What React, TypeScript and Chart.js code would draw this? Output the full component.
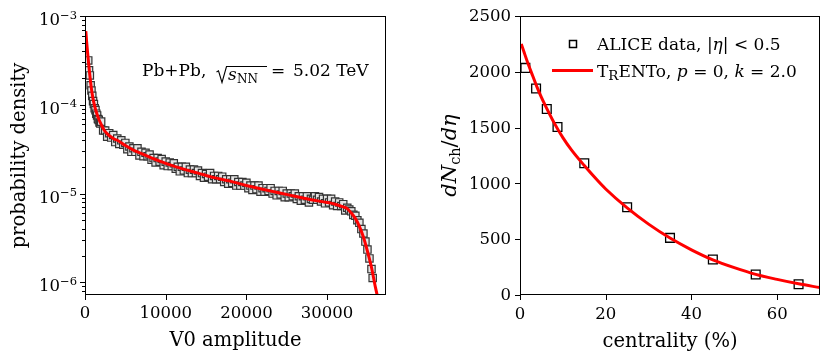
import React, { useEffect, useRef } from "react";
import { Chart, registerables } from "chart.js";

Chart.register(...registerables);

// ---------- Left panel: V0 amplitude distribution ----------
const v0Amplitude = [
  400, 500, 600, 700, 800, 900, 1000, 1100, 1200, 1300, 1400, 1500, 1600, 1700, 1800, 1900,
  2000, 2250, 2500, 2750, 3000, 3250, 3500, 3750, 4000, 4250, 4500, 4750, 5000, 5250, 5500, 5750,
  6000, 6250, 6500, 6750, 7000, 7250, 7500, 7750, 8000, 8250, 8500, 8750, 9000, 9250, 9500, 9750,
  10000, 10250, 10500, 10750, 11000, 11250, 11500, 11750, 12000, 12250, 12500, 12750, 13000, 13250,
  13500, 13750, 14000, 14250, 14500, 14750, 15000, 15250, 15500, 15750, 16000, 16250, 16500, 16750,
  17000, 17250, 17500, 17750, 18000, 18250, 18500, 18750, 19000, 19250, 19500, 19750, 20000, 20250,
  20500, 20750, 21000, 21250, 21500, 21750, 22000, 22250, 22500, 22750, 23000, 23250, 23500, 23750,
  24000, 24250, 24500, 24750, 25000, 25250, 25500, 25750, 26000, 26250, 26500, 26750, 27000, 27250,
  27500, 27750, 28000, 28250, 28500, 28750, 29000, 29250, 29500, 29750, 30000, 30250, 30500, 30750,
  31000, 31250, 31500, 31750, 32000, 32250, 32500, 32750, 33000, 33250, 33500, 33750, 34000, 34250,
  34500, 34750, 35000, 35250, 35500, 35650,
];
const v0Density = [
  3.16e-4, 2.45e-4, 2.14e-4, 1.66e-4, 1.45e-4, 1.26e-4, 1.1e-4, 1.02e-4, 9.12e-5, 8.71e-5, 7.94e-5,
  7.59e-5, 6.92e-5, 6.76e-5, 6.31e-5, 6.17e-5,
  6.46e-5, 5.13e-5, 5.13e-5, 4.37e-5, 4.79e-5, 4.27e-5, 4.57e-5, 3.8e-5, 4.17e-5, 3.63e-5, 3.98e-5,
  3.55e-5, 3.72e-5, 3.16e-5, 3.39e-5, 2.95e-5, 3.24e-5, 2.95e-5, 3.24e-5, 2.69e-5, 2.95e-5, 2.63e-5,
  2.88e-5, 2.63e-5, 2.75e-5, 2.4e-5, 2.51e-5, 2.24e-5, 2.51e-5, 2.29e-5, 2.45e-5, 2.09e-5, 2.29e-5,
  2.04e-5, 2.24e-5, 2.04e-5, 2.19e-5, 1.91e-5, 2.0e-5, 1.78e-5, 2.0e-5, 1.82e-5, 2.0e-5, 1.7e-5,
  1.86e-5, 1.7e-5, 1.86e-5, 1.7e-5, 1.82e-5, 1.58e-5, 1.7e-5, 1.51e-5, 1.66e-5, 1.55e-5, 1.7e-5,
  1.45e-5, 1.58e-5, 1.45e-5, 1.58e-5, 1.45e-5, 1.55e-5, 1.35e-5, 1.45e-5, 1.29e-5, 1.45e-5, 1.32e-5,
  1.45e-5, 1.23e-5, 1.35e-5, 1.23e-5, 1.35e-5, 1.23e-5, 1.32e-5, 1.15e-5, 1.23e-5, 1.1e-5, 1.23e-5,
  1.12e-5, 1.23e-5, 1.05e-5, 1.15e-5, 1.05e-5, 1.15e-5, 1.07e-5, 1.15e-5, 1.0e-5, 1.07e-5, 9.55e-6,
  1.07e-5, 9.77e-6, 1.07e-5, 9.12e-6, 1.0e-5, 9.12e-6, 1.0e-5, 9.33e-6, 1.0e-5, 8.71e-6, 9.33e-6,
  8.32e-6, 9.33e-6, 8.51e-6, 9.33e-6, 7.94e-6, 8.71e-6, 8.51e-6, 9.33e-6, 8.51e-6, 9.12e-6, 8.13e-6,
  8.71e-6, 7.76e-6, 8.71e-6, 7.94e-6, 8.71e-6, 7.41e-6, 8.13e-6, 7.24e-6, 7.94e-6, 7.24e-6, 7.59e-6,
  6.46e-6, 6.92e-6, 6.61e-6, 6.31e-6, 5.75e-6, 5.62e-6, 5.01e-6, 4.68e-6, 3.98e-6, 3.55e-6, 2.88e-6,
  2.34e-6, 1.86e-6, 1.41e-6, 1.12e-6,
];
const v0ModelAmplitude = [
  100, 200, 300, 400, 500, 600, 700, 800, 950, 1100, 1300, 1500, 1700, 2000, 2400, 2800, 3200, 3600,
  4000, 5000, 6000, 7000, 8000, 9000, 10000, 12000, 14000, 16000, 18000, 20000, 22000, 24000, 26000,
  28000, 30000, 31000, 32000, 32500, 33000, 33500, 34000, 34500, 35000, 35500, 36000, 36400,
];
const v0ModelDensity = [
  6.76e-4, 5.13e-4, 4.07e-4, 3.24e-4, 2.63e-4, 2.14e-4, 1.78e-4, 1.51e-4, 1.23e-4, 1.05e-4, 8.91e-5,
  7.76e-5, 6.92e-5, 6.03e-5, 5.13e-5, 4.68e-5, 4.37e-5, 4.12e-5, 3.98e-5, 3.47e-5, 3.09e-5, 2.82e-5,
  2.57e-5, 2.37e-5, 2.19e-5, 1.91e-5, 1.7e-5, 1.51e-5, 1.38e-5, 1.23e-5, 1.12e-5, 1.02e-5, 9.33e-6,
  8.51e-6, 7.94e-6, 7.59e-6, 7.08e-6, 6.76e-6, 6.03e-6, 5.25e-6, 4.27e-6, 3.24e-6, 2.24e-6, 1.48e-6,
  8.71e-7, 6.03e-7,
];
const leftXTicks = [0, 10000, 20000, 30000];
const leftXTickLabels = ["0", "10000", "20000", "30000"];
const leftYMajor = [1e-6, 1e-5, 1e-4, 1e-3];
const leftYExponents = ["\u22126", "\u22125", "\u22124", "\u22123"];
const leftYDecadeBases = [1e-7, 1e-6, 1e-5, 1e-4];
const minorMultipliers = [2, 3, 4, 5, 6, 7, 8, 9];

// ---------- Right panel: dNch/deta vs centrality ----------
const aliceCentrality = [1.25, 3.75, 6.25, 8.75, 15, 25, 35, 45, 55, 65];
const aliceDNch = [2035, 1850, 1666, 1505, 1180, 786, 512, 318, 183, 96];
const trentoCentrality = [0.3, 1, 2, 3, 4, 5, 6, 8, 10, 12, 15, 18, 20, 25, 30, 35, 40, 45, 50, 55, 60, 65, 70];
const trentoDNch = [2250, 2170, 2060, 1960, 1860, 1770, 1690, 1540, 1410, 1300, 1160, 1030, 950, 780, 635, 510, 405, 315, 245, 185, 140, 100, 66];
const rightXTicks = [0, 20, 40, 60];
const rightYTicks = [0, 500, 1000, 1500, 2000, 2500];

const SERIF = '"DejaVu Serif"';
const f = (size: number, italic = false) => `${italic ? "italic " : ""}${size}px ${SERIF}`;

type Seg = { t: string; font: string; dy?: number };

function drawSegs(ctx: CanvasRenderingContext2D, segs: Seg[], x: number, y: number, align: "left" | "center" | "right") {
  const widths = segs.map((s) => {
    ctx.font = s.font;
    return ctx.measureText(s.t).width;
  });
  const total = widths.reduce((a, b) => a + b, 0);
  let cx = align === "left" ? x : align === "center" ? x - total / 2 : x - total;
  ctx.textAlign = "left";
  ctx.textBaseline = "alphabetic";
  segs.forEach((s, i) => {
    ctx.font = s.font;
    ctx.fillText(s.t, cx, y + (s.dy || 0));
    cx += widths[i];
  });
  return total;
}

const leftAxesPlugin = {
  id: "leftAxes",
  afterDraw(chart: any) {
    const { ctx, chartArea } = chart;
    const { left, right, top, bottom } = chartArea;
    const xs = chart.scales.x;
    const ys = chart.scales.y;
    ctx.save();
    ctx.strokeStyle = "#000";
    ctx.fillStyle = "#000";
    ctx.lineWidth = 1;
    ctx.strokeRect(left + 0.5, top + 0.5, right - left - 1, bottom - top - 1);
    ctx.beginPath();
    leftXTicks.forEach((v) => {
      const px = Math.round(xs.getPixelForValue(v)) + 0.5;
      ctx.moveTo(px, bottom);
      ctx.lineTo(px, bottom + 5);
    });
    leftYMajor.forEach((v) => {
      const py = Math.round(ys.getPixelForValue(v)) + 0.5;
      ctx.moveTo(left, py);
      ctx.lineTo(left - 5, py);
    });
    leftYDecadeBases.forEach((b) => {
      minorMultipliers.forEach((m) => {
        const v = b * m;
        if (v < ys.min || v > ys.max) return;
        const py = Math.round(ys.getPixelForValue(v)) + 0.5;
        ctx.moveTo(left, py);
        ctx.lineTo(left - 3, py);
      });
    });
    ctx.stroke();

    // x tick labels
    ctx.font = f(16.5);
    ctx.textAlign = "center";
    ctx.textBaseline = "middle";
    leftXTicks.forEach((v, i) => {
      ctx.fillText(leftXTickLabels[i], xs.getPixelForValue(v), 314);
    });
    // y tick labels 10^n
    leftYMajor.forEach((v, i) => {
      const py = ys.getPixelForValue(v);
      ctx.font = f(11.5);
      const ws = ctx.measureText(leftYExponents[i]).width;
      ctx.font = f(16.5);
      const wb = ctx.measureText("10").width;
      const xr = left - 8;
      ctx.textAlign = "left";
      ctx.textBaseline = "alphabetic";
      ctx.font = f(16.5);
      ctx.fillText("10", xr - ws - wb, py + 9);
      ctx.font = f(11.5);
      ctx.fillText(leftYExponents[i], xr - ws, py + 2.5);
    });

    // axis titles
    ctx.font = f(19.5);
    ctx.textAlign = "center";
    ctx.textBaseline = "alphabetic";
    ctx.fillText("V0 amplitude", (left + right) / 2, 346);
    ctx.save();
    ctx.translate(25, (top + bottom) / 2);
    ctx.rotate(-Math.PI / 2);
    ctx.fillText("probability density", 0, 0);
    ctx.restore();

    // annotation
    drawSegs(ctx, [{ t: "Pb+Pb,", font: f(17) }], 142, 75.5, "left");
    ctx.lineWidth = 1.1;
    ctx.beginPath();
    ctx.moveTo(216.5, 72);
    ctx.lineTo(218.5, 70.8);
    ctx.lineTo(222, 82.5);
    ctx.lineTo(226.5, 66.5);
    ctx.lineTo(267, 66.5);
    ctx.stroke();
    ctx.font = f(17, true);
    ctx.textAlign = "left";
    ctx.fillText("s", 228, 80);
    ctx.font = f(12);
    ctx.fillText("NN", 237, 83);
    ctx.font = f(17);
    ctx.fillText("=", 271, 75.5);
    ctx.fillText("5.02 TeV", 293, 75.5);
    ctx.restore();
  },
};

const rightAxesPlugin = {
  id: "rightAxes",
  afterDraw(chart: any) {
    const { ctx, chartArea } = chart;
    const { left, right, top, bottom } = chartArea;
    const xs = chart.scales.x;
    const ys = chart.scales.y;
    ctx.save();
    ctx.strokeStyle = "#000";
    ctx.fillStyle = "#000";
    ctx.lineWidth = 1;
    ctx.strokeRect(left + 0.5, top + 0.5, right - left - 1, bottom - top - 1);
    ctx.beginPath();
    rightXTicks.forEach((v) => {
      const px = Math.round(xs.getPixelForValue(v)) + 0.5;
      ctx.moveTo(px, bottom);
      ctx.lineTo(px, bottom + 5);
    });
    rightYTicks.forEach((v) => {
      const py = Math.round(ys.getPixelForValue(v)) + 0.5;
      ctx.moveTo(left, py);
      ctx.lineTo(left - 5, py);
    });
    ctx.stroke();

    ctx.font = f(16.5);
    ctx.textAlign = "center";
    ctx.textBaseline = "middle";
    rightXTicks.forEach((v) => {
      ctx.fillText(String(v), xs.getPixelForValue(v), 314.5);
    });
    ctx.textAlign = "right";
    rightYTicks.forEach((v) => {
      ctx.fillText(String(v), left - 9, ys.getPixelForValue(v) + 1);
    });

    // x title
    ctx.font = f(19.5);
    ctx.textAlign = "center";
    ctx.textBaseline = "alphabetic";
    ctx.fillText("centrality (%)", (left + right) / 2, 347);

    // y title dN_ch/d eta
    ctx.save();
    ctx.translate(41, (top + bottom) / 2);
    ctx.rotate(-Math.PI / 2);
    drawSegs(
      ctx,
      [
        { t: "dN", font: f(21, true) },
        { t: "ch", font: f(14.5), dy: 4 },
        { t: "/", font: f(21) },
        { t: "d\u03B7", font: f(21, true) },
      ],
      0,
      0,
      "center"
    );
    ctx.restore();

    // legend
    ctx.lineWidth = 1.5;
    ctx.fillStyle = "#fff";
    ctx.fillRect(154.5, 40.5, 7, 7);
    ctx.strokeRect(154.5, 40.5, 7, 7);
    ctx.fillStyle = "#000";
    drawSegs(
      ctx,
      [
        { t: "ALICE data, |", font: f(17) },
        { t: "\u03B7", font: f(17, true) },
        { t: "| < 0.5", font: f(17) },
      ],
      182,
      50,
      "left"
    );
    ctx.strokeStyle = "#ff0000";
    ctx.lineWidth = 3;
    ctx.beginPath();
    ctx.moveTo(137, 70.5);
    ctx.lineTo(178, 70.5);
    ctx.stroke();
    drawSegs(
      ctx,
      [
        { t: "T", font: f(17) },
        { t: "R", font: f(13.5), dy: 3 },
        { t: "ENTo, ", font: f(17) },
        { t: "p", font: f(17, true) },
        { t: " = 0, ", font: f(17) },
        { t: "k", font: f(17, true) },
        { t: " = 2.0", font: f(17) },
      ],
      182,
      76.5,
      "left"
    );
    ctx.restore();
  },
};

export default function App() {
  const leftRef = useRef<HTMLCanvasElement>(null);
  const rightRef = useRef<HTMLCanvasElement>(null);

  useEffect(() => {
    const common = {
      responsive: false,
      animation: false as const,
      devicePixelRatio: 1,
      events: [] as any[],
      plugins: { legend: { display: false }, tooltip: { enabled: false } },
    };
    // Chart.js draws dataset index 0 last (on top), so the model curve comes first.
    const c1 = new Chart(leftRef.current!, {
      type: "scatter",
      data: {
        datasets: [
          {
            data: v0ModelAmplitude.map((x, i) => ({ x, y: v0ModelDensity[i] })),
            showLine: true,
            borderColor: "#ff0000",
            borderWidth: 3,
            pointRadius: 0,
            cubicInterpolationMode: "monotone",
            clip: 0,
          } as any,
          {
            data: v0Amplitude.map((x, i) => ({ x, y: v0Density[i] })),
            pointStyle: "rect",
            pointRadius: 5.2,
            pointBackgroundColor: "#e4e4e4",
            pointBorderColor: "#333333",
            pointBorderWidth: 1.2,
            showLine: false,
            clip: 0,
          } as any,
        ],
      },
      options: {
        ...common,
        layout: { padding: { left: 85, top: 16, right: 29, bottom: 62 } },
        scales: {
          x: { type: "linear", min: 0, max: 37300, display: false },
          y: { type: "logarithmic", min: 7.2e-7, max: 1e-3, display: false },
        },
      } as any,
      plugins: [leftAxesPlugin],
    });
    const c2 = new Chart(rightRef.current!, {
      type: "scatter",
      data: {
        datasets: [
          {
            data: trentoCentrality.map((x, i) => ({ x, y: trentoDNch[i] })),
            showLine: true,
            borderColor: "#ff0000",
            borderWidth: 3,
            pointRadius: 0,
            cubicInterpolationMode: "monotone",
            clip: 0,
          } as any,
          {
            data: aliceCentrality.map((x, i) => ({ x, y: aliceDNch[i] })),
            pointStyle: "rect",
            pointRadius: 6.2,
            pointBackgroundColor: "rgba(0,0,0,0)",
            pointBorderColor: "#000",
            pointBorderWidth: 1.3,
            showLine: false,
            clip: 0,
          } as any,
        ],
      },
      options: {
        ...common,
        layout: { padding: { left: 105, top: 16, right: 11, bottom: 62 } },
        scales: {
          x: { type: "linear", min: 0, max: 70, display: false },
          y: { type: "linear", min: 0, max: 2500, display: false },
        },
      } as any,
      plugins: [rightAxesPlugin],
    });
    return () => {
      c1.destroy();
      c2.destroy();
    };
  }, []);

  return (
    <div style={{ position: "absolute", left: 0, top: 0, width: 831, height: 357, background: "#fff" }}>
      <canvas ref={leftRef} width={415} height={357} style={{ position: "absolute", left: 0, top: 0, width: 415, height: 357 }} />
      <canvas ref={rightRef} width={416} height={357} style={{ position: "absolute", left: 415, top: 0, width: 416, height: 357 }} />
    </div>
  );
}
